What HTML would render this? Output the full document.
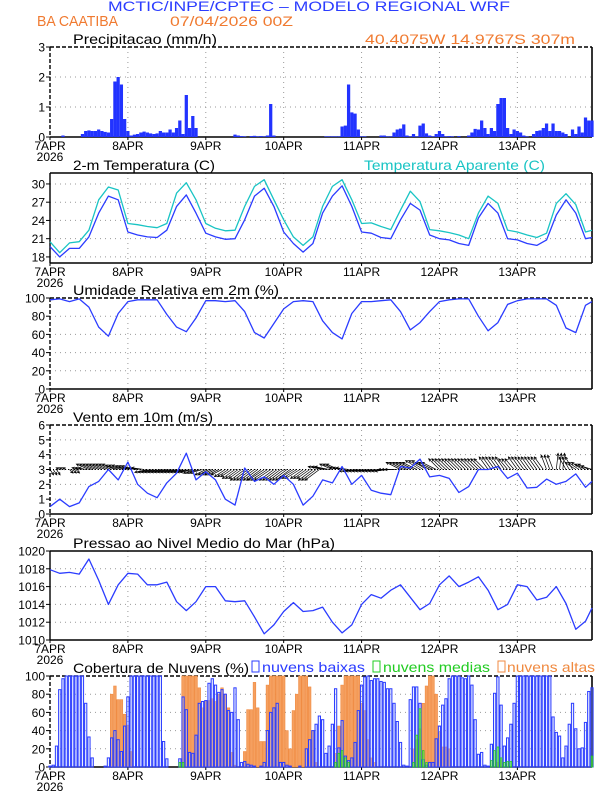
<!DOCTYPE html>
<html><head><meta charset="utf-8"><style>
html,body{margin:0;padding:0;background:#fff;}
svg{display:block;font-family:"Liberation Sans",sans-serif;}
</style></head><body>
<svg id="c" width="612" height="792" viewBox="0 0 612 792" xmlns="http://www.w3.org/2000/svg">
<text x="108" y="11" font-size="14" fill="#2b3cff" textLength="402" lengthAdjust="spacingAndGlyphs">MCTIC/INPE/CPTEC – MODELO REGIONAL WRF</text>
<text x="37" y="26" font-size="15" fill="#f07a30" textLength="81" lengthAdjust="spacingAndGlyphs">BA CAATIBA</text>
<text x="170" y="26" font-size="14" fill="#f07a30" textLength="123" lengthAdjust="spacingAndGlyphs">07/04/2026 00Z</text>
<text x="365" y="44" font-size="14" fill="#f07a30" textLength="210" lengthAdjust="spacingAndGlyphs">40.4075W 14.9767S 307m</text>
<text x="364" y="170" font-size="14" fill="#19c4c4" textLength="181" lengthAdjust="spacingAndGlyphs">Temperatura Aparente (C)</text>
<g id="cloudLegend">
<rect x="252" y="661" width="7" height="11" fill="none" stroke="#2b3cff" stroke-width="1"/>
<text x="262" y="672" font-size="14" fill="#2b3cff" textLength="103" lengthAdjust="spacingAndGlyphs">nuvens baixas</text>
<rect x="373" y="661" width="7" height="11" fill="none" stroke="#22cc22" stroke-width="1"/>
<text x="383" y="672" font-size="14" fill="#22cc22" textLength="107" lengthAdjust="spacingAndGlyphs">nuvens medias</text>
<rect x="498" y="661" width="7" height="11" fill="none" stroke="#f08a40" stroke-width="1"/>
<text x="507" y="672" font-size="14" fill="#f08a40" textLength="88" lengthAdjust="spacingAndGlyphs">nuvens altas</text>
</g>
</svg>
<script>
const dayLabels=["7APR","8APR","9APR","10APR","11APR","12APR","13APR"];
const precip=[0,0,0,0,0.05,0,0,0,0,0,0.1,0.2,0.22,0.2,0.2,0.25,0.2,0.17,0.15,0.6,1.85,2.0,1.75,0.6,
0.2,0.05,0.08,0.1,0.15,0.18,0.15,0.12,0.1,0.12,0.2,0.15,0.15,0.25,0.15,0.3,0.55,0.1,1.4,0.3,0.7,0.3,0,0,
0,0,0,0,0,0,0,0,0,0.08,0.05,0.03,0.02,0,0.03,0.04,0.02,0.03,0.02,0.05,1.1,0.05,0,0,
0,0,0,0,0,0,0,0,0,0,0,0,0,0.02,0.02,0.02,0.02,0.02,0.35,0.38,1.75,0.82,0.78,0.25,
0.02,0.02,0,0,0,0,0.05,0.05,0.02,0.02,0.15,0.25,0.28,0.42,0.05,0.02,0.1,0.02,0.38,0.45,0.12,0.05,0.02,0.1,
0.2,0.1,0.02,0.03,0.02,0,0.03,0,0,0.05,0.15,0.27,0.25,0.55,0.3,0.1,0.3,0.2,1.1,1.3,1.3,0.3,0.1,0.25,
0.2,0.15,0.05,0.02,0,0.1,0.2,0.22,0.3,0.45,0.2,0.45,0.2,0.2,0.15,0.1,0,0.25,0.1,0.35,0.15,0.65,0.55,0.55];
const hours3=[0,3,6,9,12,15,18,21,24,27,30,33,36,39,42,45,48,51,54,57,60,63,66,69,72,75,78,81,84,87,90,93,96,99,102,105,108,111,114,117,120,123,126,129,132,135,138,141,144,147,150,153,156,159,162,165,167];
const temp=[19.7,18,19.4,19.4,21.3,25.2,28,27.4,22.1,21.6,21.3,21.2,22.4,26.3,28.2,25.2,21.9,21.3,20.9,21,24.1,28,29.3,26.3,22.1,20.2,18.8,20.2,25.2,28,29.7,26.3,22.1,21.9,21.2,21,24.1,26.8,25.7,21.6,21,20.8,20.2,19.9,24.4,26.8,25.2,21,20.8,20.2,19.9,20.8,24.9,27.4,25.2,21,21.2];
const appTemp=[20.5,18.7,20.3,20.5,22.4,27.4,29.5,29,23.5,23.3,23,22.8,23.5,28.5,30.2,27.4,23.5,22.7,22.3,22.4,26.3,29.6,30.7,27.4,24.1,21.3,19.9,21.3,26.3,29.6,30.7,27.4,23.5,23.6,23,22.5,25.7,28.8,27.1,22.5,22.3,22,21.6,21,25.2,28,26.8,22.4,22.1,21.6,21.2,21.9,26.8,28.4,26.6,22.1,22.4];
const rh=[98,99,96,99,90,68,58,83,96,98,98,98,82,68,63,78,97,97,96,97,85,62,56,72,88,96,97,96,75,62,55,83,96,96,97,98,85,65,73,85,96,98,99,99,80,64,73,93,97,99,99,99,92,67,62,92,96];
const windSpd=[0.5,1.0,0.5,0.75,1.85,2.2,3.0,2.3,3.5,2.0,1.4,1.1,2.1,2.75,4.1,2.3,2.85,2.3,1.0,0.6,3.1,2.2,2.5,2.0,2.6,2.0,0.6,1.2,2.3,2.1,3.2,2.0,2.6,1.6,1.4,1.3,3.2,3.1,3.7,2.5,2.6,2.4,1.45,1.85,3.0,3.0,3.2,2.4,2.75,1.75,1.8,2.35,2.0,2.2,2.7,1.8,2.2];
const windU=[1,-1,1,-2,-3.5,-3.5,-3.5,-3.5,-3.5,-3.5,-3.5,-3.5,-3.5,-3.5,-3.5,-3.5,-3,-3,-3,-3.5,-4,-4,-4.5,-4,-4,-4,-3.5,-4,-4,-3.5,-3.5,-3.5,-3.5,-3.5,-3.5,-3.5,-4,-4,-4,-4,-3,-3,-3,-3,-3,-2.5,-2.5,-2.5,-2.5,-2.5,-2.5,-1.5,0.5,-2,-3,-3,-3];
const windV=[-1.5,0.5,-1,0.5,1.5,1.5,1.5,1.2,1,0.5,-0.8,-0.8,-0.8,-0.8,-0.8,-1,-1.5,-1.5,-2,-2.5,-3,-3,-3,-3,-3,-2.5,-2.5,-3,0.8,1.5,0.5,-0.5,-0.5,-0.5,-0.5,0,2,2,2.5,2,3,3,3,3,3,3.5,3.5,3,3.5,3.5,3.5,4,4.5,3.5,2,1.5,1];
const pres=[1017.9,1017.5,1017.6,1017.4,1019.1,1016.7,1014,1016.2,1017.5,1017.4,1016.2,1016.2,1016.5,1014.3,1013.3,1014.3,1016,1016,1014.4,1014.3,1014.4,1012.6,1010.7,1011.7,1013.2,1014.2,1013.2,1013.3,1013.7,1012,1010.8,1011.7,1014,1015.1,1014.7,1015.6,1016.2,1014.8,1013.4,1014.1,1016.2,1017.2,1016,1016.5,1017.1,1015.6,1013.4,1014,1016.2,1016,1014.5,1014.8,1016,1014.1,1011.2,1012.1,1013.6];
const lowCloud=[1,2,23,85,97,100,100,100,100,100,100,70,33,10,0,0,0,1,10,32,40,30,17,45,
77,100,100,100,100,100,100,100,100,100,100,28,9,0,0,0,9,77,63,16,15,35,70,72,
73,92,97,90,82,85,80,62,60,87,52,5,6,3,2,1,0,1,5,40,60,65,70,5,
5,2,1,0,0,1,0,20,30,40,47,56,52,15,23,47,86,21,51,12,7,10,27,62,
90,99,100,95,97,97,94,93,86,86,70,50,27,2,1,74,88,88,70,8,2,5,5,31,
45,68,75,97,100,100,100,98,97,100,90,52,14,16,2,1,25,81,99,68,23,32,47,70,
100,100,100,100,100,100,100,100,100,100,100,55,38,34,10,23,47,70,42,20,21,49,83,87];
const midCloud=[0,0,0,0,0,0,0,0,0,0,0,0,0,0,0,0,0,0,0,0,0,0,0,0,
0,0,0,0,0,0,0,0,0,0,0,0,0,0,0,0,5,5,0,0,0,0,0,0,
0,0,0,0,0,0,0,0,0,0,0,0,0,0,0,0,0,0,0,0,0,0,0,0,
0,0,0,0,0,0,0,0,0,0,0,0,0,0,0,0,5,15,18,10,5,0,0,0,
0,0,0,0,0,0,0,0,0,0,0,0,0,0,0,0,5,35,64,18,5,0,0,0,
0,0,0,0,0,0,0,0,0,0,0,0,0,0,0,0,7,18,22,10,5,6,6,0,
0,0,0,0,0,0,0,0,0,0,0,0,0,0,0,0,0,0,0,0,0,0,0,12];
const highCloud=[0,0,0,0,0,0,0,0,0,0,0,0,0,0,0,0,0,0,0,80,89,74,74,58,
46,17,0,0,0,0,0,0,0,0,0,0,0,0,0,0,0,100,100,100,100,100,87,65,
72,73,75,72,80,87,80,65,16,2,0,0,17,63,63,93,65,28,28,90,100,100,100,100,
100,40,20,62,80,100,100,100,88,40,5,0,0,0,0,0,15,45,90,100,100,100,100,100,
70,62,30,10,5,0,0,0,0,0,0,0,0,0,0,0,20,30,42,70,89,100,100,80,
38,22,22,20,0,0,0,0,0,0,0,0,0,0,0,0,0,0,5,8,0,0,0,0,
0,0,0,0,0,0,0,0,0,0,0,0,0,0,0,0,0,0,0,0,0,0,0,0];

const NS="http://www.w3.org/2000/svg";
const svg=document.getElementById('c');
const X0=50,X1=592,HMAX=167;
function xh(h){return X0+(X1-X0)*h/HMAX;}
function mk(tag,attrs,parent){const e=document.createElementNS(NS,tag);for(const k in attrs)e.setAttribute(k,attrs[k]);(parent||svg).appendChild(e);return e;}
function txt(s,x,y,size,fill,anchor,parent){const t=mk('text',{x:x,y:y,'font-size':size,fill:fill,'text-anchor':anchor||'start'},parent);t.textContent=s;return t;}

function panel(name,title,top,bot,vmin,vmax,ticks,dashedTop,firstYear,titleW){
  const g=mk('g',{});
  
  
  const ys=v=>bot-(v-vmin)/(vmax-vmin)*(bot-top);
  ticks.forEach(v=>{const yy=ys(v);if(yy>top+1&&yy<bot-1){const l=mk('line',{x1:X0,x2:X1,y1:yy,y2:yy,stroke:'#999','stroke-width':1,'stroke-dasharray':'1,4'},g);}});
  for(let d=1;d<7;d++){const xx=xh(d*24);const l=mk('line',{x1:xx,x2:xx,y1:top,y2:bot,stroke:'#999','stroke-width':1,'stroke-dasharray':'1,4'},g);}
  mk('line',{x1:X0,x2:X1,y1:bot,y2:bot,stroke:'#000','stroke-width':1.6},g);
  mk('line',{x1:X1,x2:X1,y1:top,y2:bot,stroke:'#000','stroke-width':1.6},g);
  const da=dashedTop?'4,2':'none';
  mk('line',{x1:X0,x2:X1,y1:top,y2:top,stroke:'#000','stroke-width':1.4,'stroke-dasharray':da},g);
  mk('line',{x1:X0,x2:X0,y1:top,y2:bot,stroke:'#000','stroke-width':1.4,'stroke-dasharray':da},g);
  ticks.forEach(v=>{const yy=ys(v);mk('line',{x1:X0-4,x2:X0,y1:yy,y2:yy,stroke:'#000','stroke-width':1},g);
    const t=txt(String(v),X0-5,yy+4.5,12,'#000','end',g);});
  dayLabels.forEach((s,i)=>{const xx=xh(i*24);mk('line',{x1:xx,x2:xx,y1:bot,y2:bot+3,stroke:'#000','stroke-width':1},g);
    const t=txt(s,xx,bot+13,12,'#000','middle',g);});
  const yr=txt('2026',X0,bot+24,12,'#000','middle',g);
  const tt=txt(title,73,top-3,14,'#000','start',g);tt.setAttribute('textLength',titleW);tt.setAttribute('lengthAdjust','spacingAndGlyphs');
  
  return {g,ys};
}
function line(p,hs,vals,color,name){
  let d='';vals.forEach((v,i)=>{d+=(i?'L':'M')+xh(hs[i]).toFixed(1)+','+p.ys(v).toFixed(1);});
  const e=mk('path',{d:d,fill:'none',stroke:color,'stroke-width':1.3,'stroke-linejoin':'round'},p.g);
  
}
const bw=(X1-X0)/HMAX;

const p1=panel('precip-panel','Precipitacao (mm/h)',47,137,0,3,[0,1,2,3],true,true,144);
precip.forEach((v,h)=>{if(v<=0)return;const y=p1.ys(v);
  const r=mk('rect',{x:xh(h)-bw/2,y:y,width:bw,height:137-y,fill:'#2233ff'},p1.g);
  });

const p2=panel('temperature-panel','2-m Temperatura (C)',173,263,17,31.8,[18,21,24,27,30],false,true,142);
line(p2,hours3,appTemp,'#19c4c4','apparent-temp-line');
line(p2,hours3,temp,'#2b3cff','temp-line');

const p3=panel('humidity-panel','Umidade Relativa em 2m (%)',298,389,0,100,[0,20,40,60,80,100],true,true,206);
line(p3,hours3,rh,'#2b3cff','rh-line');

const p4=panel('wind-panel','Vento em 10m (m/s)',425,514,0,6,[0,1,2,3,4,5,6],true,true,140);
const y3=p4.ys(3);
function arrow(x,u,v){const s=3.6;const x2=x+u*s,y2=y3-v*s;
  const ang=Math.atan2(y2-y3,x2-x);const hl=3;
  const d='M'+x+','+y3+'L'+x2+','+y2+'M'+(x2-hl*Math.cos(ang-0.45))+','+(y2-hl*Math.sin(ang-0.45))+'L'+x2+','+y2+'L'+(x2-hl*Math.cos(ang+0.45))+','+(y2-hl*Math.sin(ang+0.45));
  const a=mk('path',{d:d,fill:'none',stroke:'#000','stroke-width':0.7},p4.g);
  
  }
windU.forEach((u,i)=>{
  const h=hours3[i];
  for(let k=0;k<3;k++){const hh=h+k;if(hh>HMAX)break;if(i+1<hours3.length&&hh>=hours3[i+1])break;arrow(xh(hh),u,windV[i]);}
});
mk('line',{x1:X0,x2:X1,y1:y3,y2:y3,stroke:'#000','stroke-width':1,'stroke-dasharray':'1,2'},p4.g);
line(p4,hours3,windSpd,'#2b3cff','wind-speed-line');

const p5=panel('pressure-panel','Pressao ao Nivel Medio do Mar (hPa)',551,640,1010,1020,[1010,1012,1014,1016,1018,1020],false,true,262);
line(p5,hours3,pres,'#2b3cff','pressure-line');

const p6=panel('cloud-panel','Cobertura de Nuvens (%)',676,767,0,100,[0,20,40,60,80,100],true,true,176);
highCloud.forEach((v,h)=>{if(v<=0)return;const y=p6.ys(v);
  const r=mk('rect',{x:xh(h)-bw/2+0.3,y:y,width:bw-0.6,height:767-y,fill:'#f5a060',stroke:'#f08a40','stroke-width':0.6},p6.g);
  });
lowCloud.forEach((v,h)=>{if(v<=0)return;const y=p6.ys(v);
  const r=mk('rect',{x:xh(h)-bw/2+0.5,y:y,width:bw-1,height:767-y,fill:'rgba(190,205,255,0.35)',stroke:'#2b3cff','stroke-width':1},p6.g);
  });
midCloud.forEach((v,h)=>{if(v<=0)return;const y=p6.ys(v);
  const r=mk('rect',{x:xh(h)-bw/2+0.8,y:y,width:bw-1.6,height:767-y,fill:'rgba(120,220,120,0.5)',stroke:'#22cc22','stroke-width':0.8},p6.g);
  });
</script>
</body></html>
